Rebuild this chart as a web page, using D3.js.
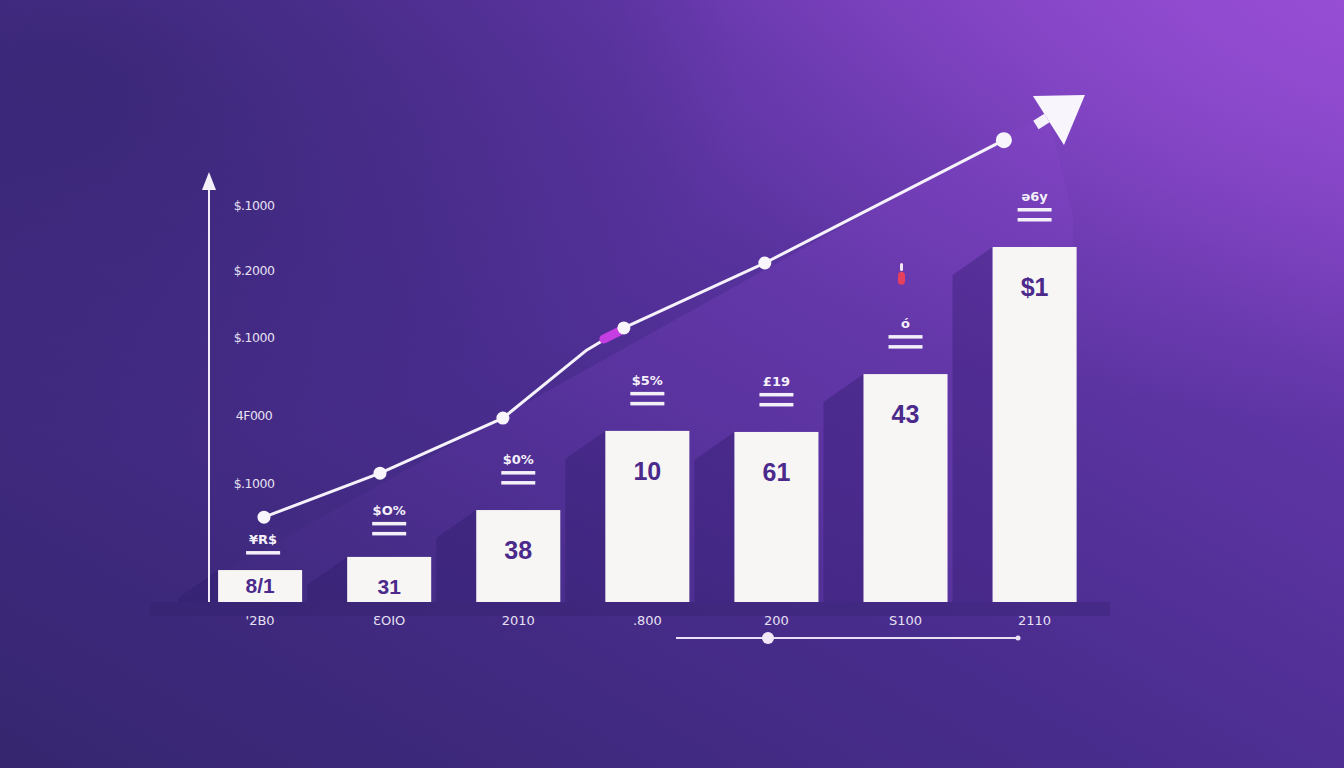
<!DOCTYPE html>
<html><head><meta charset="utf-8">
<script src="https://cdn.jsdelivr.net/npm/d3@7"></script>
<style>html,body{margin:0;padding:0;background:#3b2878;overflow:hidden}</style>
</head><body>
<svg id="c" width="1344" height="768"></svg>
<script>
// ---- data ----
const categories = ["'2B0", "ƐOIO", "2010", ".800", "200", "S100", "2110"];
const barValues = [9.0, 12.7, 25.9, 48.2, 47.9, 64.2, 100];
const barLabels = ["8/1", "31", "38", "10", "61", "43", "$1"];
const topLabels = ["¥R$", "$O%", "$0%", "$5%", "£19", "ó", "ǝ6y"];
const topLabelRules = [1, 2, 2, 2, 2, 2, 2];
const yTickValues = [33.5, 52.4, 74.4, 93.5, 111.8];
const yTickLabels = ["$.1000", "4F000", "$.1000", "$.2000", "$.1000"];
// trend line: positions in category units and values
const lineX = [0.03, 0.929, 1.881, 2.532, 2.818, 3.910, 5.762];
const lineY = [23.9, 36.3, 51.8, 71.0, 77.2, 95.5, 130.1];
const lineMarkers = [true, true, true, false, true, true, true];
const arrowX = 6.057, arrowY = 135.5;

const svg = d3.select("#c");
const W = 1344, H = 768;
const defs = svg.append("defs");

// background
const bg = defs.append("linearGradient").attr("id","bg").attr("x1","0").attr("y1","1").attr("x2","1").attr("y2","0");
bg.append("stop").attr("offset","0").attr("stop-color","#35266f");
bg.append("stop").attr("offset","0.45").attr("stop-color","#4a2d8f");
bg.append("stop").attr("offset","0.75").attr("stop-color","#6236a8");
bg.append("stop").attr("offset","1").attr("stop-color","#8e48cd");
svg.append("rect").attr("width",W).attr("height",H).attr("fill","url(#bg)");
const rg = defs.append("radialGradient").attr("id","rg").attr("cx","1").attr("cy","0").attr("r","0.55");
rg.append("stop").attr("offset","0").attr("stop-color","#9a50d8").attr("stop-opacity",0.7);
rg.append("stop").attr("offset","1").attr("stop-color","#9a50d8").attr("stop-opacity",0);
svg.append("rect").attr("width",W).attr("height",H).attr("fill","url(#rg)");
const rg2 = defs.append("radialGradient").attr("id","rg2").attr("cx","0.05").attr("cy","0.1").attr("r","0.5");
rg2.append("stop").attr("offset","0").attr("stop-color","#2f2468").attr("stop-opacity",0.6);
rg2.append("stop").attr("offset","1").attr("stop-color","#2f2468").attr("stop-opacity",0);
svg.append("rect").attr("width",W).attr("height",H).attr("fill","url(#rg2)");

// scales
const x = d3.scaleBand().domain(categories).range([195.5, 1099.2]).paddingInner(0.349).paddingOuter(0.175);
const y = d3.scaleLinear().domain([0, 100]).range([602, 247]);
const xc = d3.scaleLinear().domain([0, 6]).range([x(categories[0]) + x.bandwidth()/2, x(categories[6]) + x.bandwidth()/2]);

// diagonal light band under trend
const band = defs.append("linearGradient").attr("id","band").attr("x1","0").attr("y1","1").attr("x2","1").attr("y2","0");
band.append("stop").attr("offset","0").attr("stop-color","#6a3ab0").attr("stop-opacity",0.0);
band.append("stop").attr("offset","0.5").attr("stop-color","#7a40c0").attr("stop-opacity",0.3);
band.append("stop").attr("offset","1").attr("stop-color","#8a48cc").attr("stop-opacity",0.3);
svg.append("path")
  .attr("d", `M${xc(-0.7)},${y(0)} L${xc(6.1)},${y(138)} L${xc(6.3)},${y(108)} L${xc(6.3)},${y(0)} Z`)
  .attr("fill","url(#band)");

// bar shadows (diagonal to the upper-left)
const shadowG = svg.append("g");
categories.forEach((c, i) => {
  const x0 = x(c), yt = y(barValues[i]);
  shadowG.append("path")
    .attr("d", `M${x0},${y(0)} L${x0},${yt} L${x0-40},${yt+28} L${x0-40},${y(0)} Z`)
    .attr("fill","#2c1b66").attr("opacity",0.35);
});
// baseline shadow
svg.append("rect").attr("x",150).attr("y",y(0)).attr("width",960).attr("height",14)
  .attr("fill","#2a1c60").attr("opacity",0.25);

// y axis
const axG = svg.append("g");
axG.append("line").attr("x1",209).attr("x2",209).attr("y1",y(0)).attr("y2",188)
  .attr("stroke","#f1ecf8").attr("stroke-width",2);
axG.append("path").attr("d","M209,172 L202,190 L216,190 Z").attr("fill","#f4f0fa");
const yAxis = d3.axisRight(y).tickValues(yTickValues).tickSize(0).tickFormat((d,i)=>yTickLabels[i]);
const yg = svg.append("g").attr("transform","translate(232,0)").call(yAxis);
yg.select(".domain").remove();
yg.selectAll("text").attr("x",22).attr("text-anchor","middle").attr("fill","#e6e0f2")
  .style("font-family","'DejaVu Sans', sans-serif").style("font-size","12.5px").style("letter-spacing","-0.5px");

// x axis
const xAxis = d3.axisBottom(x).tickSize(0);
const xg = svg.append("g").attr("transform",`translate(0,${y(0)})`).call(xAxis);
xg.select(".domain").remove();
xg.selectAll("text").attr("y",14).attr("fill","#e6e0f2")
  .style("font-family","'DejaVu Sans', sans-serif").style("font-size","13px");

// bars
svg.append("g").selectAll("rect").data(barValues).join("rect")
  .attr("x",(d,i)=>x(categories[i])).attr("y",d=>y(d))
  .attr("width",x.bandwidth()).attr("height",d=>y(0)-y(d))
  .attr("fill","#f7f6f4");

// labels inside bars
svg.append("g").selectAll("text").data(barLabels).join("text")
  .attr("x",(d,i)=>x(categories[i])+x.bandwidth()/2)
  .attr("y",(d,i)=> i===0 ? y(0)-9 : (i===1 ? y(barValues[i])+37 : y(barValues[i])+49))
  .attr("text-anchor","middle")
  .attr("fill","#4b2a8c")
  .style("font-family","'Liberation Sans', Arial, sans-serif").style("font-weight","bold")
  .style("font-size",(d,i)=> i<2 ? "21px" : "25px")
  .text(d=>d);

// labels above bars with rules
const tg = svg.append("g");
categories.forEach((c, i) => {
  const cx = x(c) + x.bandwidth()/2 + (i===0?3:0);
  const yt = y(barValues[i]);
  const gap = i===0 ? 16 : (i===1 ? 22 : 26);
  const ruleBottom = yt - gap;
  const n = topLabelRules[i];
  for (let k = 0; k < n; k++) {
    tg.append("rect").attr("x",cx-17).attr("y",ruleBottom - k*10 - 3).attr("width",34).attr("height",3.5)
      .attr("fill","#f4f0fa");
  }
  tg.append("text").attr("x",cx).attr("y",ruleBottom - (n-1)*10 - 10)
    .attr("text-anchor","middle").attr("fill","#f4f0fa")
    .style("font-family","'DejaVu Sans', sans-serif").style("font-weight","bold").style("font-size","13px")
    .text(topLabels[i]);
});
// small red pin above the 6th bar
const pinX = x(categories[5]) + x.bandwidth()/2 - 4;
tg.append("rect").attr("x",pinX-3.5).attr("y",y(93)).attr("width",7).attr("height",13)
  .attr("rx",3.5).attr("fill","#e5405e");
tg.append("rect").attr("x",pinX-1.5).attr("y",y(95.5)).attr("width",3).attr("height",8)
  .attr("rx",1.5).attr("fill","#f4e6f2");

// trend line
const pts = lineX.map((v,i)=>[xc(v), y(lineY[i])]);
svg.append("path").attr("d",d3.line()(pts))
  .attr("fill","none").attr("stroke","#f6f2fb").attr("stroke-width",3).attr("stroke-linejoin","round");
// magenta capsule near 4th marker
const mk = pts[4];
svg.append("line").attr("x1",mk[0]-20).attr("y1",mk[1]+11).attr("x2",mk[0]-4).attr("y2",mk[1]+3)
  .attr("stroke","#c43ee2").attr("stroke-width",9).attr("stroke-linecap","round");

// arrow stub and head
const ae = [xc(arrowX), y(arrowY)];
svg.append("line").attr("x1",ae[0]-6).attr("y1",ae[1]+4).attr("x2",ae[0]+5).attr("y2",ae[1]-3)
  .attr("stroke","#f6f2fb").attr("stroke-width",10);
svg.append("path")
  .attr("d",`M${ae[0]-9},${ae[1]-25} L${ae[0]+43},${ae[1]-26} L${ae[0]+22},${ae[1]+24} Z`)
  .attr("fill","#f8f6fc");

svg.append("g").selectAll("circle").data(pts.filter((p,i)=>lineMarkers[i])).join("circle")
  .attr("cx",d=>d[0]).attr("cy",d=>d[1]).attr("r",(d,i)=> i===5 ? 8 : 6.5).attr("fill","#f8f6fc");

// bottom slider
svg.append("line").attr("x1",676).attr("x2",1018).attr("y1",638).attr("y2",638)
  .attr("stroke","#e8e0f4").attr("stroke-width",2);
svg.append("circle").attr("cx",768).attr("cy",638).attr("r",6).attr("fill","#f3e8f8");
svg.append("circle").attr("cx",1018).attr("cy",638).attr("r",2.5).attr("fill","#e8e0f4");
</script>
</body></html>
